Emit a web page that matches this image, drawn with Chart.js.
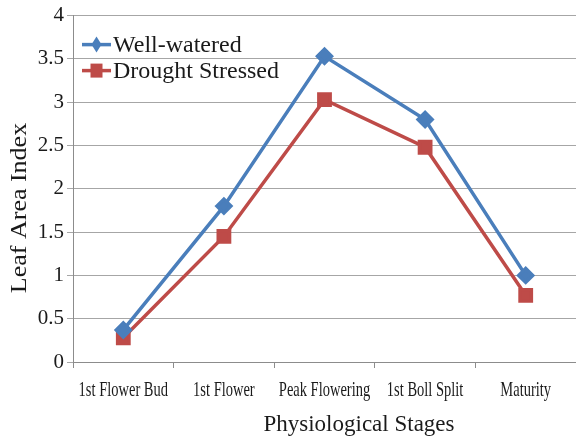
<!DOCTYPE html>
<html>
<head>
<meta charset="utf-8">
<script src="https://cdn.jsdelivr.net/npm/chart.js@4.4.0/dist/chart.umd.min.js"></script>
<style>
  html, body { margin: 0; padding: 0; background: #fff; overflow: hidden; }
  canvas { display: block; }
</style>
</head>
<body>
<canvas id="myChart" width="576" height="441"></canvas>
<script>
const stages = ['1st Flower Bud', '1st Flower', 'Peak Flowering', '1st Boll Split', 'Maturity'];
const wellWatered = [0.37, 1.80, 3.53, 2.80, 1.00];
const droughtStressed = [0.28, 1.45, 3.03, 2.48, 0.77];
const seriesNames = ['Well-watered', 'Drought Stressed'];
const xTitle = 'Physiological Stages';
const yTitle = 'Leaf Area Index';

const serif = '"Liberation Serif", "Times New Roman", serif';
const ink = '#1a1a1a';

// legend inside the plot, narrow x labels and both axis titles
const extras = {
  id: 'extras',
  afterDraw(chart) {
    var ctx = chart.ctx;
    var a = chart.chartArea;
    ctx.save();
    ctx.font = '24px ' + serif;
    ctx.textBaseline = 'middle';
    chart.data.datasets.forEach(function(ds, i) {
      var x = a.left + 9;
      var y = a.top + 29 + i * 26;
      ctx.strokeStyle = ds.borderColor;
      ctx.lineWidth = 3.5;
      ctx.beginPath();
      ctx.moveTo(x, y);
      ctx.lineTo(x + 29, y);
      ctx.stroke();
      ctx.fillStyle = ds.backgroundColor;
      var cx = x + 14.5;
      ctx.beginPath();
      if (ds.pointStyle === 'rectRot') {
        ctx.moveTo(cx, y - 8);
        ctx.lineTo(cx + 5, y);
        ctx.lineTo(cx, y + 8);
        ctx.lineTo(cx - 5, y);
      } else {
        ctx.rect(cx - 6, y - 7, 12, 14);
      }
      ctx.closePath();
      ctx.fill();
      ctx.fillStyle = ink;
      ctx.fillText(ds.label, x + 31, y + 1);
    });

    // category labels, condensed like the original
    var xs = chart.scales.x;
    ctx.font = '21px ' + serif;
    ctx.textAlign = 'center';
    ctx.textBaseline = 'alphabetic';
    stages.forEach(function(lbl, i) {
      ctx.save();
      ctx.translate(xs.getPixelForValue(i), 396);
      ctx.scale(0.69, 1);
      ctx.fillText(lbl, 0, 0);
      ctx.restore();
    });

    // x axis title
    ctx.font = '23px ' + serif;
    ctx.textBaseline = 'middle';
    ctx.fillText(xTitle, 359, 425);

    // y axis title
    ctx.save();
    ctx.translate(20, 208);
    ctx.rotate(-Math.PI / 2);
    ctx.scale(1.13, 1);
    ctx.fillText(yTitle, 0, 0);
    ctx.restore();
    ctx.restore();
  }
};

new Chart(document.getElementById('myChart'), {
  type: 'line',
  data: {
    labels: stages,
    datasets: [{
      label: seriesNames[0],
      data: wellWatered,
      borderColor: '#4a7ebb',
      backgroundColor: '#4a7ebb',
      borderWidth: 3.5,
      pointStyle: 'rectRot',
      pointRadius: 7,
      pointHoverRadius: 7,
      tension: 0
    }, {
      label: seriesNames[1],
      data: droughtStressed,
      borderColor: '#be4b48',
      backgroundColor: '#be4b48',
      borderWidth: 3.5,
      pointStyle: 'rect',
      pointRadius: 8,
      pointHoverRadius: 8,
      tension: 0
    }]
  },
  options: {
    responsive: false,
    animation: false,
    layout: { autoPadding: false, padding: { top: 13, right: 0, bottom: 0, left: 0 } },
    plugins: {
      legend: { display: false },
      tooltip: { enabled: false }
    },
    scales: {
      x: {
        offset: true,
        grid: { display: true, offset: true, drawOnChartArea: false, drawTicks: true, tickLength: 6, color: '#8c8c8c' },
        border: { display: true, color: '#8c8c8c', width: 1 },
        ticks: { display: false },
        afterFit: function(s) { s.height = 79; }
      },
      y: {
        min: 0,
        max: 4,
        ticks: {
          stepSize: 0.5,
          color: ink,
          font: { family: serif, size: 21 },
          padding: 3,
          callback: function(v) { return String(v); }
        },
        grid: { color: '#a6a6a6', lineWidth: 1, tickLength: 6 },
        border: { display: true, color: '#8c8c8c' },
        afterFit: function(s) { s.width = 73; }
      }
    }
  },
  plugins: [extras]
});
</script>
</body>
</html>
